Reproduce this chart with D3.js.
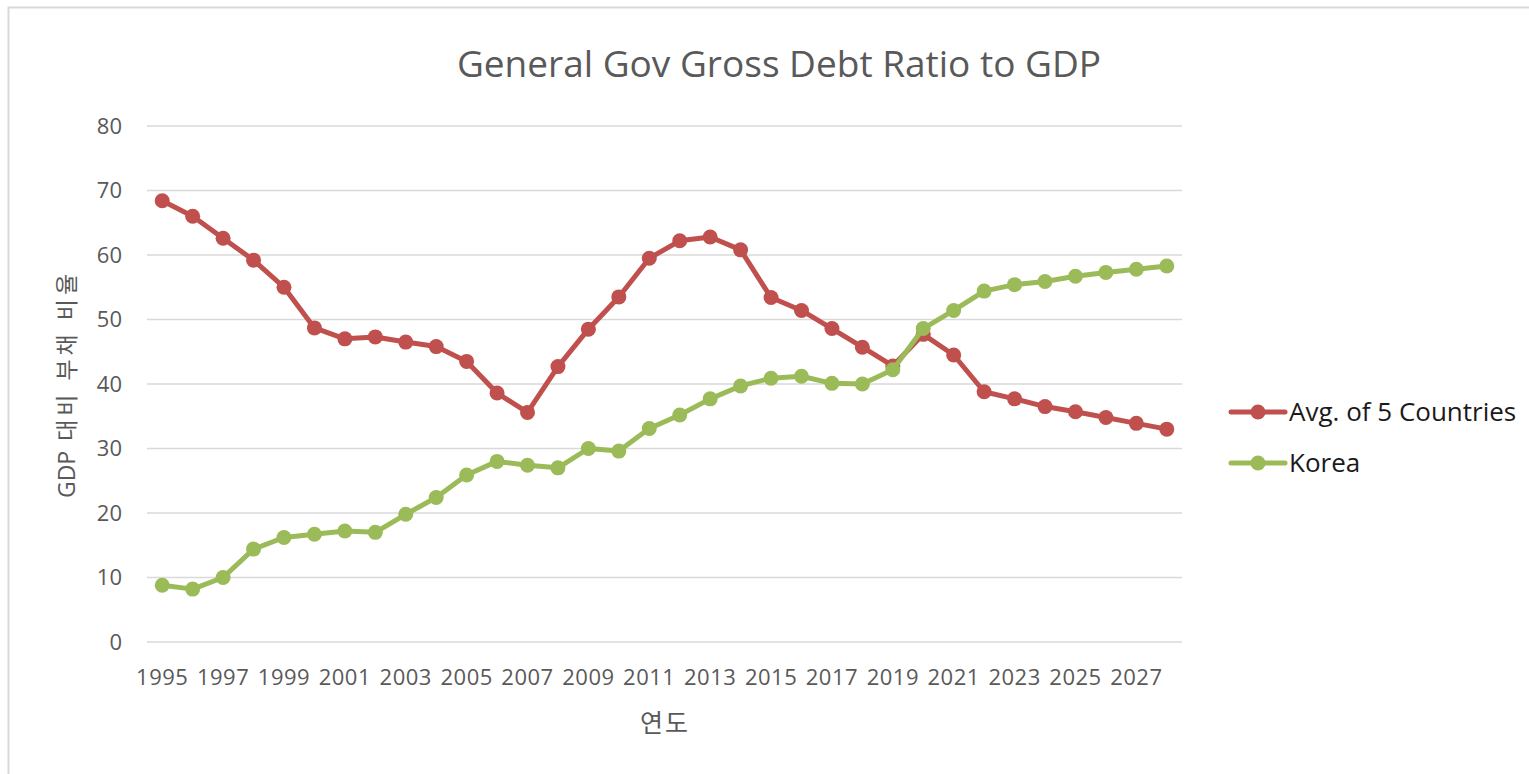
<!DOCTYPE html>
<html><head><meta charset="utf-8">
<script src="https://cdn.jsdelivr.net/npm/d3@7"></script>
<style>html,body{margin:0;padding:0;background:#fff;overflow:hidden}</style>
</head><body>
<svg id="chart" width="1529" height="774"></svg>
<script>
const years = d3.range(1995, 2029).map(String);
const avg5 = [68.4,66.0,62.6,59.2,55.0,48.7,47.0,47.3,46.5,45.8,43.5,38.6,35.6,42.7,48.5,53.5,59.5,62.2,62.8,60.8,53.4,51.4,48.6,45.7,42.8,47.7,44.5,38.8,37.7,36.5,35.7,34.8,33.9,33.0];
const korea = [8.8,8.2,10.0,14.4,16.2,16.7,17.2,17.0,19.8,22.4,25.9,28.0,27.4,27.0,30.0,29.6,33.1,35.2,37.7,39.7,40.9,41.2,40.1,40.0,42.2,48.6,51.4,54.4,55.4,55.9,56.7,57.3,57.8,58.3];
const yTicks = [0,10,20,30,40,50,60,70,80];
const seriesNames = ["Avg. of 5 Countries", "Korea"];
const seriesColors = ["#C0504D", "#9BBB59"];
const title = "General Gov Gross Debt Ratio to GDP";
const xTitle = "연도";
const yTitleParts = ["GDP", " 대비 부채 비율"];

const series = [avg5, korea];
const svg = d3.select("#chart");
const font = "'Open Sans','Noto Sans','Noto Sans CJK KR',sans-serif";
const textCol = "#595959";

// frame
svg.append("rect").attr("x",8.5).attr("y",7.5).attr("width",1540).attr("height",800)
  .attr("fill","none").attr("stroke","#d9d9d9").attr("stroke-width",2);

const L = 147, R = 1182, T = 126, B = 642;
const x = d3.scaleBand().domain(years).range([L, R]);
const y = d3.scaleLinear().domain([0, 80]).range([B, T]);

// gridlines
svg.append("g").selectAll("line").data(yTicks).join("line")
  .attr("x1", L).attr("x2", R).attr("y1", d => y(d)).attr("y2", d => y(d))
  .attr("stroke", "#d9d9d9").attr("stroke-width", 1.5);

// y axis labels
const yAxis = d3.axisLeft(y).tickValues(yTicks).tickSize(0).tickPadding(0);
const gy = svg.append("g").attr("transform", `translate(${L-25},0)`).call(yAxis);
gy.select(".domain").remove();
gy.selectAll("text").attr("font-family", font).attr("font-size", 22).attr("fill", textCol);

// x axis labels
const xAxis = d3.axisBottom(x).tickValues(years.filter((d,i) => i % 2 === 0)).tickSize(0).tickPadding(0);
const gx = svg.append("g").attr("transform", `translate(0,${B+27})`).call(xAxis);
gx.select(".domain").remove();
gx.selectAll("text").attr("font-family", font).attr("font-size", 22).attr("letter-spacing", 0.5).attr("fill", textCol);

// titles
svg.append("text").attr("x", 779).attr("y", 77).attr("text-anchor","middle")
  .attr("font-family", font).attr("font-size", 37).attr("fill", textCol).text(title);
svg.append("text").attr("x", 665).attr("y", 732).attr("text-anchor","middle")
  .attr("font-family", font).attr("font-size", 25).attr("letter-spacing", 2).attr("fill", textCol).text(xTitle);
const yt = svg.append("text").attr("transform", "translate(75,384) rotate(-90)").attr("text-anchor","middle")
  .attr("font-family", font).attr("font-size", 23).attr("fill", textCol);
yt.append("tspan").text(yTitleParts[0]);
yt.append("tspan").attr("letter-spacing", 4).text(yTitleParts[1]);

// lines
const cx = i => x(years[i]) + x.bandwidth()/2;
const line = d3.line().x((d,i) => cx(i)).y(d => y(d));
series.forEach((s, k) => {
  const g = svg.append("g");
  g.append("path").datum(s).attr("d", line).attr("fill","none")
    .attr("stroke", seriesColors[k]).attr("stroke-width", 5).attr("stroke-linejoin","round");
  g.selectAll("circle").data(s).join("circle")
    .attr("cx", (d,i) => cx(i)).attr("cy", d => y(d)).attr("r", 7.5)
    .attr("fill", seriesColors[k]);
});

// legend
const lg = svg.append("g");
seriesNames.forEach((n, k) => {
  const yy = 412 + k*51;
  lg.append("line").attr("x1",1231).attr("x2",1285).attr("y1",yy).attr("y2",yy)
    .attr("stroke", seriesColors[k]).attr("stroke-width",5).attr("stroke-linecap","round");
  lg.append("circle").attr("cx",1258).attr("cy",yy).attr("r",7.5).attr("fill",seriesColors[k]);
  lg.append("text").attr("x",1289).attr("y",yy+9).attr("font-family",font)
    .attr("font-size",26).attr("fill","#1a1a1a").text(n);
});
</script>
</body></html>
